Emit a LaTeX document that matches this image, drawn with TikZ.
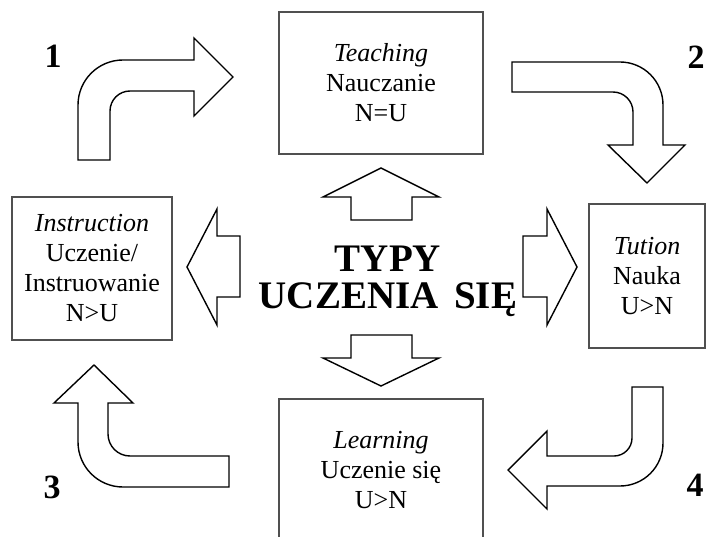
\documentclass[tikz,border=0pt]{standalone}
\usepackage{fontspec}
\setmainfont{Liberation Serif}
\definecolor{boxgray}{HTML}{505050}
\begin{document}
\begin{tikzpicture}[x=1pt,y=-1pt,
  box/.style={draw=boxgray, line width=1.1pt, inner sep=0pt, align=center,
    font=\fontsize{26}{30}\selectfont},
  blockarrow/.style={draw=black, line width=1.4pt, line join=miter, fill=white},
  num/.style={font=\bfseries\fontsize{34}{34}\selectfont, inner sep=0pt},
  title/.style={font=\bfseries\fontsize{39}{37}\selectfont, align=center, inner sep=0pt}]
\useasboundingbox (0,0) rectangle (706,537);

% the four boxes
\node[box, minimum width=204pt, minimum height=142pt] (teach) at (381,83)
  {\textit{Teaching}\\Nauczanie\\N=U};
\node[box, minimum width=160pt, minimum height=143pt] (instr) at (92,268.5)
  {\textit{Instruction}\\Uczenie/\\Instruowanie\\N>U};
\node[box, minimum width=116pt, minimum height=144pt] (tut) at (647,276)
  {\textit{Tution}\\Nauka\\U>N};
\node[box, minimum width=204pt, minimum height=142pt] (learn) at (381,470)
  {\textit{Learning}\\Uczenie się\\U>N};

% central title
\node[title] (typy) at (388,281) {TYPY\\UCZENIA\hspace{0.4em}SIĘ};

% bent arrows between the boxes
\draw[blockarrow] (78,160) -- (78,105) arc[start angle=180,end angle=270,radius=45]
  -- (194,60) -- (194,38) -- (233,77) -- (194,116) -- (194,91) -- (130,91)
  arc[start angle=270,end angle=180,radius=20] -- (110,160) -- cycle;
\draw[blockarrow] (512,62) -- (620,62) arc[start angle=270,end angle=360,radius=43]
  -- (663,145) -- (685,145) -- (647,183) -- (608,145) -- (633,145) -- (633,112)
  arc[start angle=0,end angle=-90,radius=20] -- (512,92) -- cycle;
\draw[blockarrow] (229,487) -- (123,487) arc[start angle=90,end angle=180,radius=45]
  -- (78,403) -- (54,403) -- (94,365) -- (133,403) -- (108,403) -- (108,434)
  arc[start angle=180,end angle=90,radius=22] -- (229,456) -- cycle;
\draw[blockarrow] (632,387) -- (663,387) -- (663,443)
  arc[start angle=0,end angle=90,radius=43]
  -- (547,486) -- (547,509) -- (508,470) -- (547,431) -- (547,456) -- (614,456)
  arc[start angle=90,end angle=0,radius=18] -- cycle;

% straight arrows around the title
\draw[blockarrow] (351,220) -- (351,197) -- (323,197) -- (381,168) -- (439,197)
  -- (412,197) -- (412,220) -- cycle;
\draw[blockarrow] (240,236) -- (217,236) -- (217,209) -- (187,267) -- (217,325)
  -- (217,297) -- (240,297) -- cycle;
\draw[blockarrow] (523,236) -- (547,236) -- (547,209) -- (577,267) -- (547,325)
  -- (547,297) -- (523,297) -- cycle;
\draw[blockarrow] (351,335) -- (412,335) -- (412,358) -- (439,358) -- (381,386)
  -- (323,358) -- (351,358) -- cycle;

% step numbers
\node[num] (n1) at (53,56) {1};
\node[num] (n2) at (696,57) {2};
\node[num] (n3) at (52,487) {3};
\node[num] (n4) at (695,485) {4};
\end{tikzpicture}
\end{document}
